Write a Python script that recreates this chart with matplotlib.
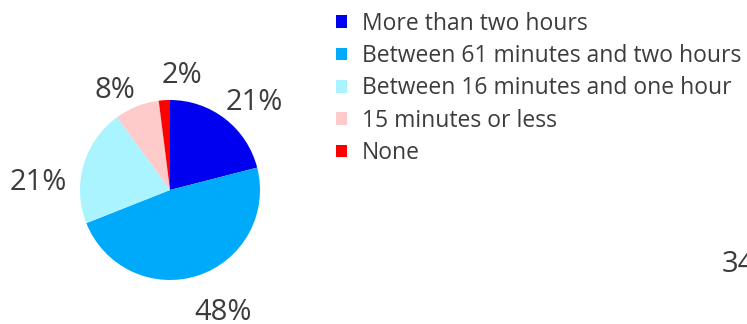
import matplotlib
matplotlib.use("Agg")
import matplotlib.pyplot as plt
import matplotlib.transforms as mtransforms
import numpy as np
from matplotlib.patches import Patch

# ── Data ─────────────────────────────────────────────────────────────────────
categories = ["More than two hours", "Between 61 minutes and two hours",
              "Between 16 minutes and one hour", "15 minutes or less", "None"]
shares     = [21, 48, 21, 8, 2]
colors     = ["#0000F0", "#00AAFA", "#AAF4FF", "#FFCACA", "#FF0000"]
next_label = "34%"

# label placement tweaks (radius units / degrees clockwise)
label_dist  = [1.37, 1.46, 1.47, 1.28, 1.30]
label_shift = [5.5, -6.0, -12.0, -7.0, 9.5]

TEXT = "#3c3c3c"
W, H = 747, 324
plt.rcParams["font.family"] = ["Open Sans", "DejaVu Sans"]

fig = plt.figure(figsize=(W / 100, H / 100), dpi=100)

# pie centred at (170, 190) px, radius ~90 px
cx, cy, r = 170, 190, 90
ax = fig.add_axes([(cx - r) / W, (H - cy - r) / H, 2 * r / W, 2 * r / H])
wedges, _ = ax.pie(shares, colors=colors, startangle=90, counterclock=False)
# Open Sans sits a bit high with va=center, nudge labels down
lbl_tr = mtransforms.offset_copy(ax.transData, fig=fig, x=0, y=-2, units="dots")
for w, s, d, sh in zip(wedges, shares, label_dist, label_shift):
    mid = np.deg2rad((w.theta1 + w.theta2) / 2 - sh)
    ax.text(d * np.cos(mid), d * np.sin(mid), f"{s}%", fontsize=21,
            color=TEXT, ha="center", va="center", transform=lbl_tr)
ax.set_xlim(-1, 1)
ax.set_ylim(-1, 1)
ax.set_aspect("equal")

handles = [Patch(facecolor=c, edgecolor="none") for c in colors]
fig.legend(handles, categories, loc="upper left",
           bbox_to_anchor=(327 / W, 1 - 2.5 / H), frameon=False,
           fontsize=16.5, labelcolor=TEXT, handlelength=0.48, handleheight=0.48,
           handletextpad=0.65, labelspacing=0.365, borderaxespad=0)

# cut-off label of the neighbouring chart
fig.text(722 / W, 1 - 264 / H, next_label, fontsize=21, color=TEXT,
         ha="left", va="center")

fig.savefig("out.png", dpi=100)
